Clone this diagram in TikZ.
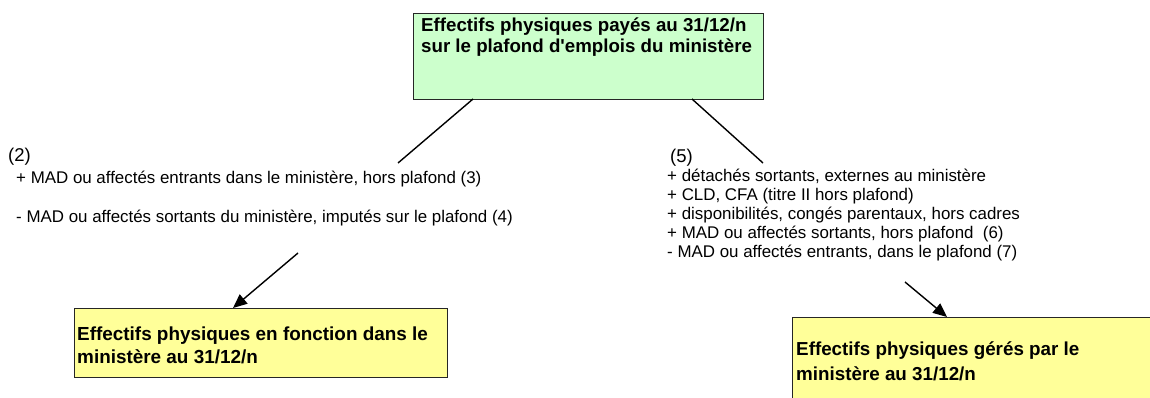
\documentclass[tikz,border=0pt]{standalone}
\usepackage{fontspec}
\setmainfont{Liberation Sans}[Ligatures=TeXOff]
\usetikzlibrary{arrows.meta}
\definecolor{boxgreen}{RGB}{204,255,204}
\definecolor{boxyellow}{RGB}{255,255,153}
\begin{document}
\begin{tikzpicture}[x=1pt,y=1pt,
  box/.style={draw=black!85, line width=1.4pt, rectangle, inner sep=0pt, anchor=north west},
  titletext/.style={font=\fontsize{18.7}{21}\selectfont\bfseries, inner sep=0pt, anchor=base west, align=left},
  listtext/.style={font=\fontsize{16.9}{19}\selectfont, inner sep=0pt, anchor=base west, align=left},
  numtext/.style={font=\fontsize{18.5}{19}\selectfont, inner sep=0pt, anchor=base west},
  link/.style={line width=1.4pt},
  arrowlink/.style={line width=1.4pt, -{Triangle[length=14pt,width=12pt]}}]
\useasboundingbox (0,0) rectangle (1150,397);
\clip (0,0) rectangle (1150,397);
% boxes
\node[box, fill=boxgreen, minimum width=350, minimum height=86] (top) at (413,384) {};
\node[box, fill=boxyellow, minimum width=373, minimum height=69] (left) at (74,89) {};
\node[box, fill=boxyellow, minimum width=370, minimum height=100] (right) at (792,80) {};
% box texts (anchor = baseline of last line)
\node[titletext] (toptxt) at (421,344) {Effectifs physiques payés au 31/12/n\\sur le plafond d'emplois du ministère};
\node[titletext, font=\fontsize{18.9}{23}\selectfont\bfseries] (lefttxt) at (77,34) {Effectifs physiques en fonction dans le\\ministère au 31/12/n};
\node[titletext, font=\fontsize{18.8}{25}\selectfont\bfseries] (righttxt) at (796,17) {Effectifs physiques gérés par le\\ministère au 31/12/n};
% left list
\node[numtext] (n2) at (8,236) {(2)};
\node[listtext] (l1) at (16,214) {+ MAD ou affectés entrants dans le ministère, hors plafond (3)};
\node[listtext] (l2) at (16,175) {- MAD ou affectés sortants du ministère, imputés sur le plafond (4)};
% right list
\node[numtext] (n5) at (670,235) {(5)};
\node[listtext] (r1) at (667,140) {+ détachés sortants, externes au ministère\\+ CLD, CFA (titre II hors plafond)\\+ disponibilités, congés parentaux, hors cadres\\+ MAD ou affectés sortants, hors plafond~ (6)\\- MAD ou affectés entrants, dans le plafond (7)};
% connectors
\coordinate (tL) at (473,298);
\coordinate (eL) at (398,234);
\coordinate (tR) at (692,298);
\coordinate (eR) at (763,234);
\coordinate (aL) at (298,144);
\coordinate (aLe) at (233,89);
\coordinate (aR) at (905,115);
\coordinate (aRe) at (947,80);
\draw[link] (tL) -- (eL);
\draw[link] (tR) -- (eR);
\draw[arrowlink] (aL) -- (aLe);
\draw[arrowlink] (aR) -- (aRe);
\end{tikzpicture}
\end{document}
